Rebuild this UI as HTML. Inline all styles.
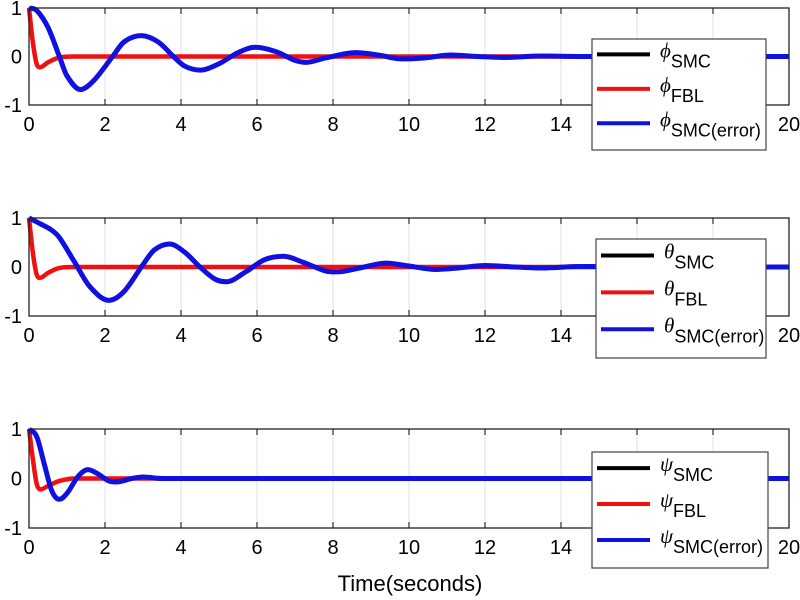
<!DOCTYPE html>
<html><head><meta charset="utf-8"><style>
body{margin:0;background:#fff;}
svg{display:block;font-family:"Liberation Sans",sans-serif;}
</style></head><body>
<svg id="c" width="800" height="600"></svg>
<script>
const xTicks=[0,2,4,6,8,10,12,14,16,18,20];
const xTickLabels=["0","2","4","6","8","10","12","14","16","18","20"];
const yTicks=[-1,0,1];
const yTickLabels=["-1","0","1"];
const sym=["\u03D5","\u03B8","\u03C8"];
const phiBlueT=[0,0.2,0.5,0.8,1.0,1.35,1.7,2.2,2.5,2.95,3.4,3.8,4.1,4.5,5.0,5.5,5.95,6.5,7.0,7.3,7.8,8.6,9.2,9.8,10.4,11.1,11.8,12.5,13.5,14.5,20];
const phiBlueV=[1,0.95,0.6,0,-0.4,-0.68,-0.5,0,0.3,0.43,0.3,0,-0.2,-0.28,-0.15,0.08,0.19,0.1,-0.08,-0.12,-0.03,0.08,0.03,-0.05,-0.03,0.03,0,-0.02,0.01,0,0];
const phiRedT=[0,0.1,0.2,0.3,0.5,0.8,1.2,20];
const phiRedV=[1,0.3,-0.15,-0.22,-0.12,-0.02,0,0];
const thetaBlueT=[0,0.3,0.6,0.8,1.2,1.6,2.1,2.5,3.0,3.3,3.7,4.1,4.5,4.9,5.2,5.7,6.2,6.7,7.2,7.8,8.1,8.7,9.4,10,10.7,11.3,12.0,12.8,13.5,14.5,20];
const thetaBlueV=[1,0.88,0.75,0.6,0.1,-0.4,-0.68,-0.5,0.05,0.35,0.47,0.3,0,-0.25,-0.3,-0.1,0.15,0.22,0.1,-0.08,-0.1,-0.02,0.08,0.02,-0.05,-0.02,0.03,0,-0.02,0.01,0];
const thetaRedT=[0,0.1,0.2,0.3,0.5,0.8,1.2,20];
const thetaRedV=[1,0.3,-0.15,-0.22,-0.12,-0.02,0,0];
const psiBlueT=[0,0.2,0.4,0.6,0.8,1.0,1.3,1.55,1.8,2.1,2.3,2.7,3.0,3.5,20];
const psiBlueV=[1,0.85,0.3,-0.25,-0.42,-0.3,0.05,0.18,0.1,-0.05,-0.07,0,0.03,0,0];
const psiRedT=[0,0.1,0.2,0.3,0.5,0.8,1.2,20];
const psiRedV=[1,0.4,-0.1,-0.22,-0.15,-0.05,0,0];
const panels=[
 {top:8,bot:105,lg:[592,39,174,111],bt:phiBlueT,bv:phiBlueV,rt:phiRedT,rv:phiRedV,name:"phi"},
 {top:218,bot:316,lg:[596,239,170,119],bt:thetaBlueT,bv:thetaBlueV,rt:thetaRedT,rv:thetaRedV,name:"theta"},
 {top:429,bot:528,lg:[592,452,176,116],bt:psiBlueT,bv:psiBlueV,rt:psiRedT,rv:psiRedV,name:"psi"}];
const NS="http://www.w3.org/2000/svg";
const svg=document.getElementById('c');
const X0=29,X1=789;
function xs(t){return X0+(t/20)*(X1-X0);}
function mk(tag,at,par){const e=document.createElementNS(NS,tag);for(const k in at)e.setAttribute(k,at[k]);(par||svg).appendChild(e);return e;}
function pathD(T,V,ys){
 const n=T.length,m=[];
 for(let i=0;i<n;i++){
  if(i===0||i===n-1){m.push(0);continue;}
  let s=(V[i+1]-V[i-1])/(T[i+1]-T[i-1]);
  const a=(V[i]-V[i-1]),b=(V[i+1]-V[i]);
  if(a*b<=0) s=0;
  m.push(s);
 }
 m[0]=n>1?(V[1]-V[0])/(T[1]-T[0]):0;
 let d="M"+xs(T[0])+","+ys(V[0]);
 for(let i=0;i<n-1;i++){const h=T[i+1]-T[i];
  d+=" C"+xs(T[i]+h/3)+","+ys(V[i]+m[i]*h/3)+" "+xs(T[i+1]-h/3)+","+ys(V[i+1]-m[i+1]*h/3)+" "+xs(T[i+1])+","+ys(V[i+1]);}
 return d;}
panels.forEach((P,pi)=>{
 const ys=v=>P.bot-(v+1)/2*(P.bot-P.top);
 const g=mk('g',{});
 
 
 xTicks.forEach((t,i)=>{
  if(i>0&&i<xTicks.length-1){const gl=mk('line',{x1:xs(t),x2:xs(t),y1:P.top,y2:P.bot,stroke:'#e0e0e0','stroke-width':1},g);
   }
  mk('line',{x1:xs(t),x2:xs(t),y1:P.bot,y2:P.bot-6,stroke:'#000','stroke-width':1},g);
  mk('line',{x1:xs(t),x2:xs(t),y1:P.top,y2:P.top+6,stroke:'#000','stroke-width':1},g);
  const tx=mk('text',{x:xs(t),y:P.bot+26,'text-anchor':'middle','font-size':20,fill:'#000'},g);
  tx.textContent=xTickLabels[i];
  
 });
 yTicks.forEach((v,i)=>{
  const tx=mk('text',{x:22,y:ys(v)+7,'text-anchor':'end','font-size':20,fill:'#000'},g);
  tx.textContent=yTickLabels[i];
  
 });
 const r=mk('path',{d:pathD(P.rt,P.rv,ys),fill:'none',stroke:'#f01010','stroke-width':4.5,'stroke-linejoin':'round'},g);
 
 const b=mk('path',{d:pathD(P.bt,P.bv,ys),fill:'none',stroke:'#1010e0','stroke-width':5,'stroke-linejoin':'round'},g);
 
 const ax=mk('rect',{x:X0,y:P.top,width:X1-X0,height:P.bot-P.top,fill:'none',stroke:'#222','stroke-width':1.3},g);
 
 const [lx,ly,lw,lh]=P.lg;
 const lgG=mk('g',{},g);
 
 mk('rect',{x:lx,y:ly,width:lw,height:lh,fill:'#fff',stroke:'#444','stroke-width':1.2},lgG);
 const cols=['#000','#f01010','#1010e0'],subs=['SMC','FBL','SMC(error)'];
 for(let k=0;k<3;k++){const cy=ly+lh*(0.13+0.31*k);
  const ent=mk('g',{},lgG);
  
  
  mk('line',{x1:lx+5,x2:lx+58,y1:cy+1,y2:cy+1,stroke:cols[k],'stroke-width':4},ent);
  const t=mk('text',{x:lx+68,y:cy+4,'font-size':21,fill:'#000'},ent);
  const s1=mk('tspan',{'font-family':'Liberation Serif, serif','font-style':'italic'},t);s1.textContent=sym[pi];
  const s2=mk('tspan',{dy:10,'font-size':18},t);s2.textContent=subs[k];
 }
});
const xl=mk('text',{x:410,y:591,'text-anchor':'middle','font-size':22,fill:'#000'});
xl.textContent="Time(seconds)";

</script>
</body></html>
